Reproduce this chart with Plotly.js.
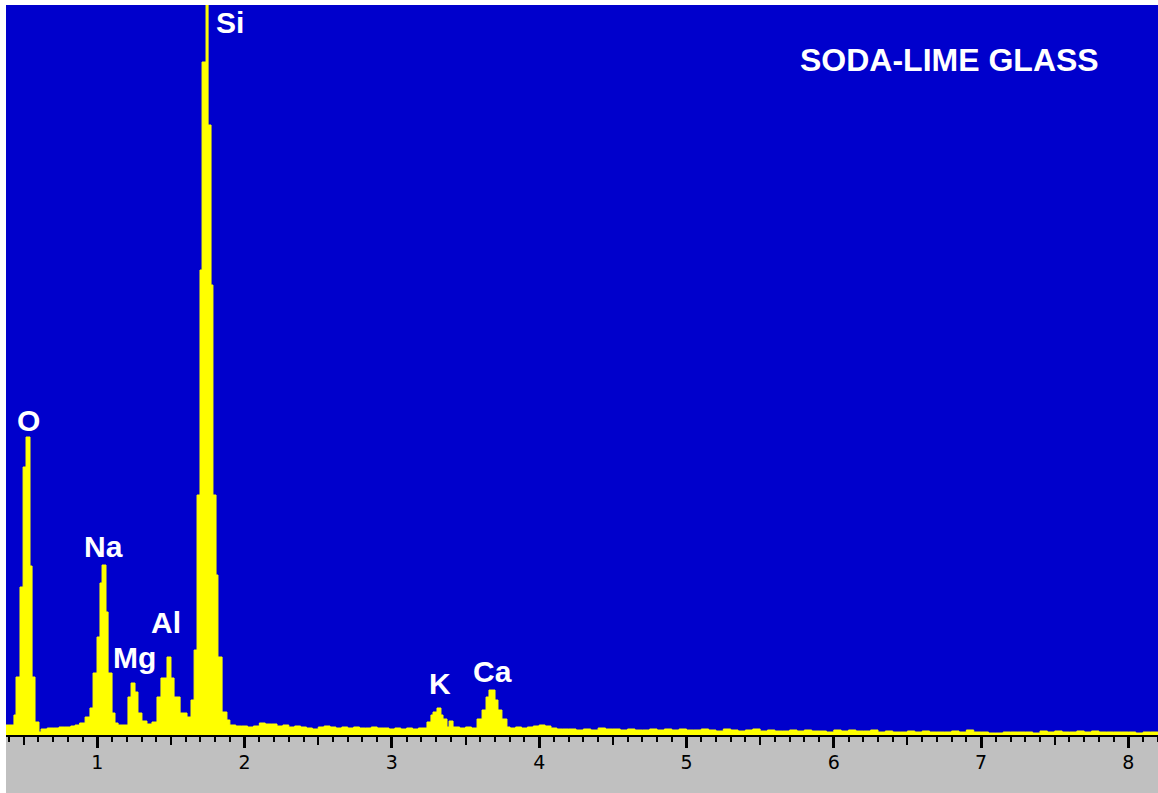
<!DOCTYPE html>
<html>
<head>
<meta charset="utf-8">
<script src="https://cdn.plot.ly/plotly-3.0.1.min.js"></script>
<style>
  html, body { margin: 0; padding: 0; background: #ffffff; }
  #chart { width: 1158px; height: 793px; }
</style>
</head>
<body>
<div id="chart"></div>
<script>
// Energy (keV, left edge of each step) and counts
const energy = [
  0.37, 0.434, 0.448, 0.475, 0.496, 0.516, 0.543, 0.557, 0.577, 0.604,
  0.618, 0.66, 0.70, 0.74, 0.78, 0.82, 0.849, 0.88, 0.917,
  0.950, 0.971, 0.998, 1.018, 1.032, 1.059, 1.073, 1.100, 1.120, 1.141,
  1.208, 1.229, 1.256, 1.276, 1.303, 1.337, 1.371,
  1.405, 1.432, 1.473, 1.500, 1.521, 1.562, 1.609,
  1.636, 1.657, 1.677, 1.697, 1.711, 1.738, 1.752, 1.772, 1.785, 1.806, 1.819, 1.847, 1.880,
  1.90, 1.94, 1.98, 2.02, 2.06, 2.10, 2.14, 2.18, 2.22, 2.26, 2.30, 2.34, 2.38, 2.42, 2.46,
  2.50, 2.54, 2.58, 2.62, 2.66, 2.70, 2.74, 2.78, 2.82, 2.86, 2.90, 2.94, 2.98, 3.02, 3.06,
  3.10, 3.14, 3.18,
  3.238, 3.265, 3.279, 3.306, 3.333, 3.347, 3.374, 3.388, 3.415, 3.46, 3.50, 3.54,
  3.578, 3.612, 3.639, 3.659, 3.700, 3.720, 3.747, 3.781, 3.802,
  3.84, 3.88, 3.92, 3.96, 4.00, 4.04, 4.08, 4.12, 4.16,
  4.20, 4.25, 4.30, 4.35, 4.40, 4.45, 4.50, 4.55, 4.60, 4.65, 4.70, 4.75, 4.80, 4.85, 4.90, 4.95,
  5.00, 5.05, 5.10, 5.15, 5.20, 5.25, 5.30, 5.35, 5.40, 5.45, 5.50, 5.55, 5.60, 5.65, 5.70, 5.75,
  5.80, 5.85, 5.90, 5.95, 6.00, 6.05, 6.10, 6.15, 6.20, 6.25, 6.30, 6.35, 6.40, 6.45, 6.50, 6.55,
  6.60, 6.65, 6.70, 6.75, 6.80, 6.85, 6.90, 6.95, 7.00, 7.05, 7.10, 7.15, 7.20, 7.25, 7.30, 7.35,
  7.40, 7.45, 7.50, 7.55, 7.60, 7.65, 7.70, 7.75, 7.80, 7.85, 7.90, 7.95, 8.00, 8.05, 8.10, 8.15,
  8.20, 8.25
];
const counts = [
  10, 20, 58, 148, 268, 298, 169, 58, 13, 3,
  6, 7, 7, 8, 8, 9, 10, 12, 18,
  27, 62, 98, 152, 170, 123, 62, 22, 12, 10,
  38, 52, 43, 22, 14, 11, 13,
  38, 57, 78, 57, 38, 22, 18,
  35, 85, 240, 465, 673, 800, 610, 450, 240, 160, 78, 23, 15,
  10, 9, 9, 8, 9, 12, 11, 11, 9, 10, 8, 9, 8, 7, 6,
  8, 9, 8, 7, 8, 7, 8, 7, 7, 8, 7, 7, 6, 7, 6,
  7, 6, 7,
  13, 20, 23, 27, 20, 16, 8, 14, 8, 7, 8, 7,
  16, 25, 38, 45, 35, 25, 16, 8, 7,
  8, 7, 8, 9, 10, 9, 7, 6, 6,
  6, 5, 6, 5, 7, 6, 6, 5, 6, 5, 5, 6, 5, 6, 5, 6,
  5, 5, 6, 5, 4, 6, 5, 4, 5, 6, 4, 5, 4, 4, 5, 4,
  5, 4, 4, 3, 5, 4, 5, 4, 4, 5, 3, 4, 3, 3, 4, 3,
  4, 3, 3, 3, 4, 3, 5, 3, 3, 2, 2, 3, 3, 3, 3, 2,
  4, 3, 4, 3, 3, 4, 3, 4, 3, 3, 3, 3, 3, 2, 3, 3,
  3, 3
];

// Peak labels
const peakNames = ["O", "Na", "Mg", "Al", "Si", "K", "Ca"];
const peakLabelX = [0.53, 1.039, 1.249, 1.466, 1.90, 3.327, 3.680];
const peakLabelY = [315, 189, 78, 113, 713, 52, 64];
const sampleTitle = "SODA-LIME GLASS";

// Axis ticks
const majorTicks = [1, 2, 3, 4, 5, 6, 7, 8];
const majorLabels = ["1", "2", "3", "4", "5", "6", "7", "8"];
const halfTicks = [0.5, 1.5, 2.5, 3.5, 4.5, 5.5, 6.5, 7.5];
const xRange = [0.38, 8.201];
const yRange = [0, 730];

const spectrum = {
  x: energy,
  y: counts,
  type: "scatter",
  mode: "lines",
  line: { shape: "hv", color: "#ffff00", width: 1 },
  fill: "tozeroy",
  fillcolor: "#ffff00",
  hoverinfo: "x+y",
  showlegend: false
};
const halfAxisTrace = {
  x: [], y: [], type: "scatter", mode: "lines", xaxis: "x2", yaxis: "y",
  showlegend: false, hoverinfo: "skip"
};

const annotations = peakNames.map((name, i) => ({
  x: peakLabelX[i], y: peakLabelY[i], xref: "x", yref: "y",
  text: name, showarrow: false,
  font: { family: "Liberation Sans, Arial, sans-serif", size: 30, color: "#ffffff", weight: "bold" },
  xanchor: "center", yanchor: "middle"
}));
annotations.push({
  x: 0.8186, y: 0.925, xref: "paper", yref: "paper",
  text: sampleTitle, showarrow: false,
  font: { family: "Liberation Sans, Arial, sans-serif", size: 32, color: "#ffffff", weight: "bold" },
  xanchor: "center", yanchor: "middle"
});

const layout = {
  width: 1158, height: 793,
  margin: { l: 6, r: 0, t: 5, b: 58, pad: 0 },
  paper_bgcolor: "#ffffff",
  plot_bgcolor: "#0000cc",
  showlegend: false,
  xaxis: {
    range: xRange, autorange: false,
    showgrid: false, zeroline: false,
    showline: true, linecolor: "#000000", linewidth: 2,
    ticks: "outside", tickvals: majorTicks, ticktext: majorLabels,
    ticklen: 11, tickwidth: 3, tickcolor: "#000000",
    ticklabelstandoff: -2,
    tickfont: { family: "DejaVu Sans, Liberation Sans, sans-serif", size: 19, color: "#000000" },
    minor: { dtick: 0.1, tick0: 0, ticks: "outside", ticklen: 5, tickwidth: 2, tickcolor: "#000000", showgrid: false },
    fixedrange: true
  },
  xaxis2: {
    overlaying: "x", side: "bottom", anchor: "y",
    range: xRange, autorange: false,
    showgrid: false, zeroline: false, showline: false,
    ticks: "outside", tickmode: "array", tickvals: halfTicks,
    ticklen: 9, tickwidth: 2, tickcolor: "#000000",
    showticklabels: false
  },
  yaxis: {
    range: yRange, autorange: false,
    showgrid: false, zeroline: false, showline: false,
    showticklabels: false, ticks: "", fixedrange: true
  },
  shapes: [{
    type: "rect", xref: "paper", yref: "paper",
    x0: 0, x1: 1, y0: -58 / 730, y1: 0,
    fillcolor: "#c0c0c0", line: { width: 0 }, layer: "below"
  }],
  annotations: annotations
};

Plotly.newPlot("chart", [spectrum, halfAxisTrace], layout, { displayModeBar: false, staticPlot: true });
</script>
</body>
</html>
